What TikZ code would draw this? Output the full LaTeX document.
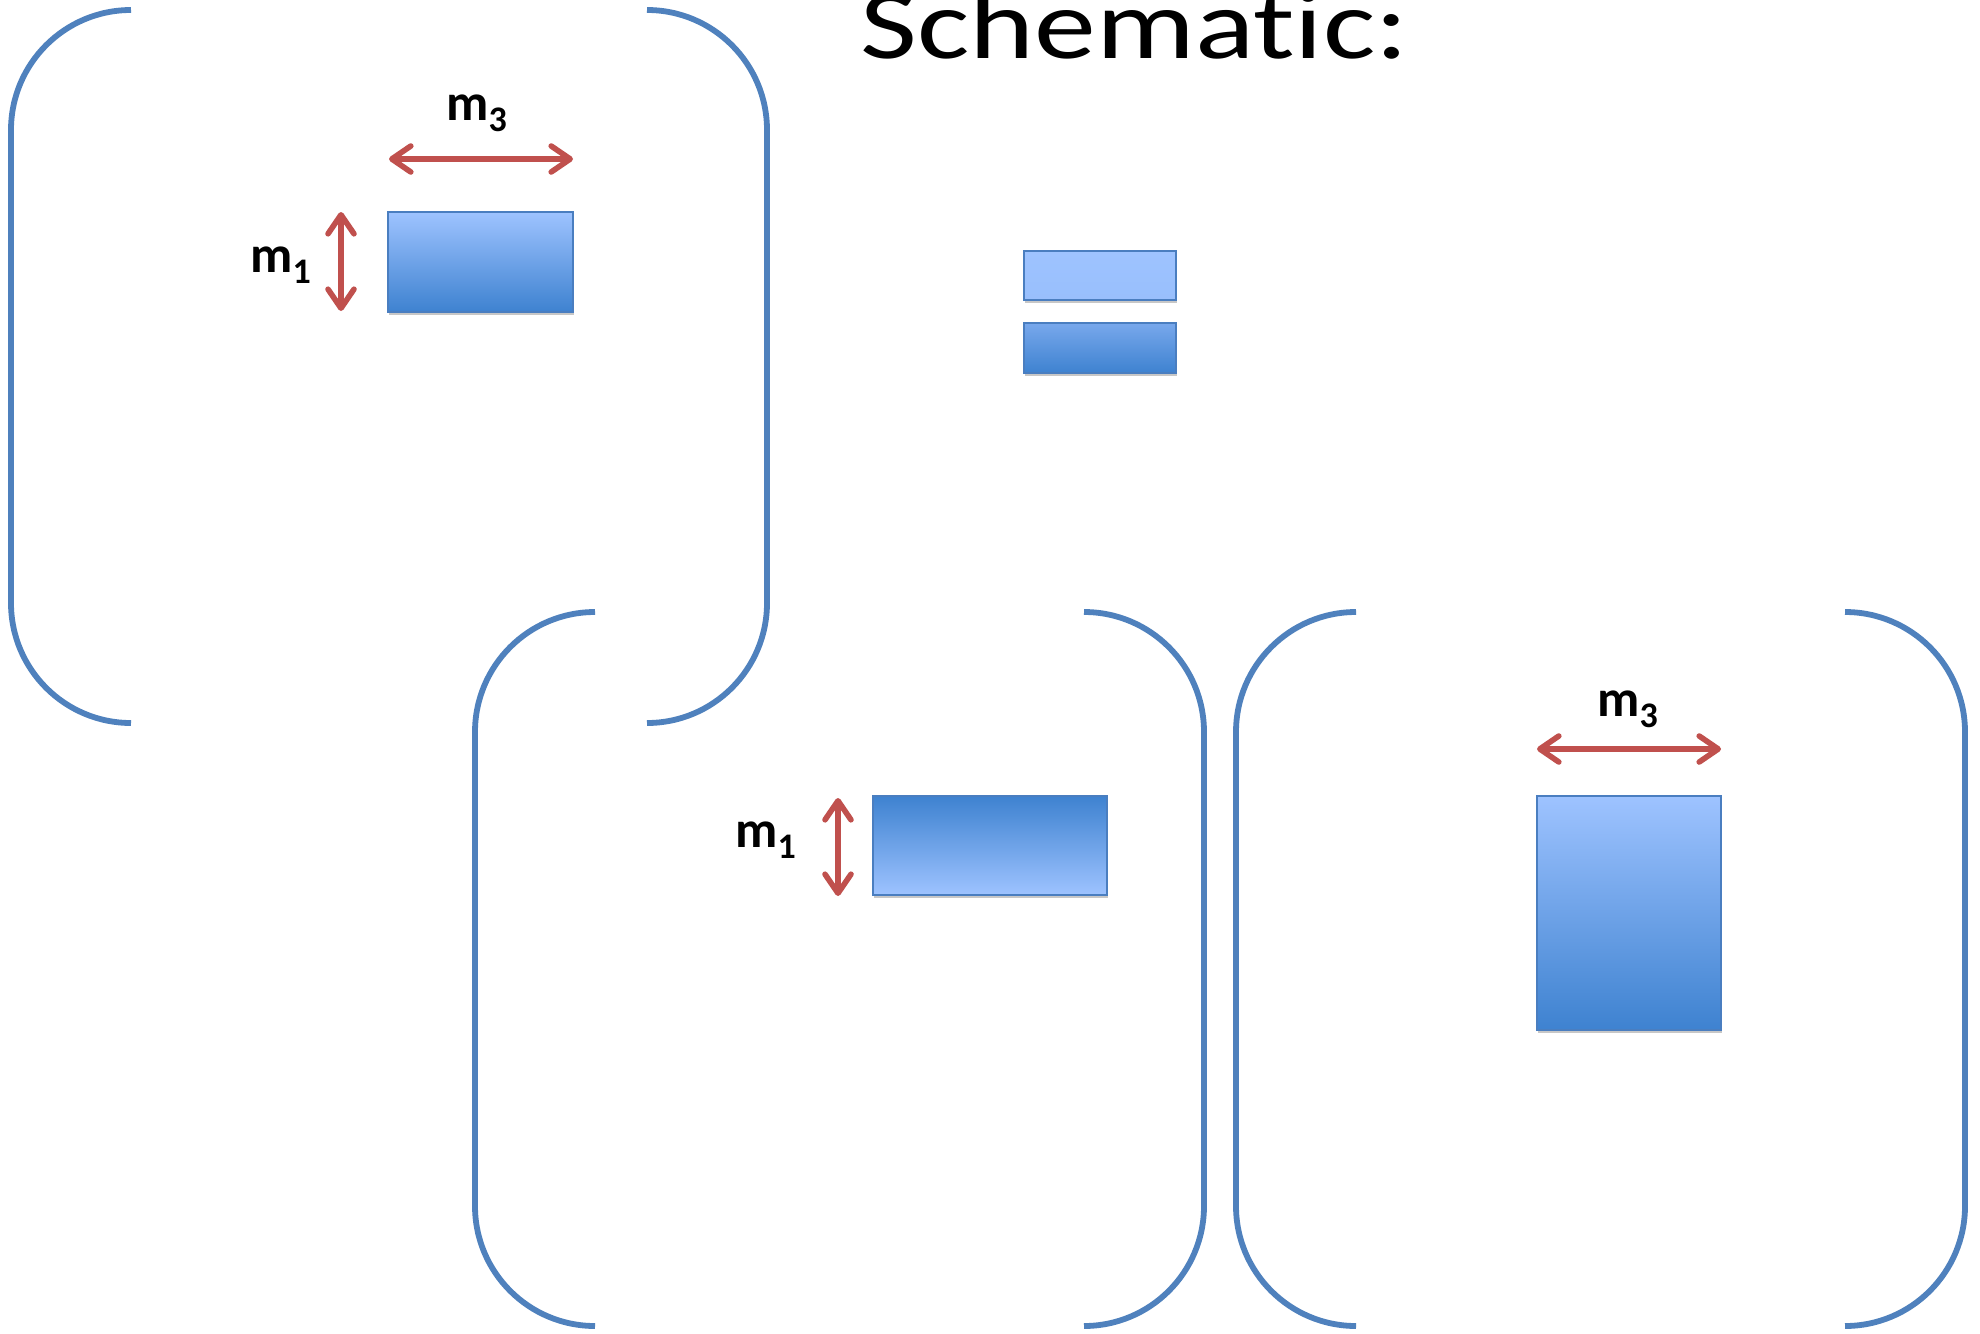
\documentclass[tikz,border=0pt]{standalone}
\usepackage{fontspec}
\setmainfont{Carlito}[Ligatures=CommonOff]
\usetikzlibrary{arrows.meta,shadows}
\definecolor{brk}{RGB}{79,129,189}
\definecolor{arr}{RGB}{192,80,77}
\definecolor{boxline}{RGB}{74,126,192}
\definecolor{boxlight}{RGB}{158,195,255}
\definecolor{boxmid}{RGB}{120,168,236}
\definecolor{boxdark}{RGB}{62,130,208}
\tikzset{
  bracket/.style={draw=brk, line width=2.9pt, rounded corners=60pt},
  dimarrow/.style={draw=arr, line width=2.8pt,
    {Straight Barb[length=9.5pt,width=13pt,round]}-{Straight Barb[length=9.5pt,width=13pt,round]}},
  blockbox/.style={draw=boxline, line width=0.9pt, inner sep=0pt, rectangle,
    drop shadow={shadow xshift=0.4pt, shadow yshift=-1.6pt, opacity=0.22, fill=black}},
  lightdown/.style={blockbox, top color=boxlight, bottom color=boxdark},
  darkdown/.style={blockbox, top color=boxdark, bottom color=boxlight},
  lbl/.style={anchor=base west, inner sep=0pt, font=\fontsize{26}{26}\selectfont\bfseries},
}
\newcommand{\msub}[1]{m\raisebox{-5.5pt}{\fontsize{18}{18}\selectfont\bfseries #1}}
\begin{document}
\begin{tikzpicture}[x=0.5pt,y=-0.5pt]
\useasboundingbox (0,0) rectangle (1980,1333);
\fill[white] (0,0) rectangle (1980,1333);

% title
\node[anchor=base west, inner sep=0pt, xscale=1.25, font=\fontsize{49.5}{49.5}\selectfont] (title) at (860,58) {Schematic:};

% bracket 1
\draw[bracket] (131,10) -- (11,10) -- (11,723) -- (131,723);
\draw[bracket] (647,10) -- (767,10) -- (767,723) -- (647,723);
% bracket 2
\draw[bracket] (595,612) -- (475,612) -- (475,1326) -- (595,1326);
\draw[bracket] (1084,612) -- (1204,612) -- (1204,1326) -- (1084,1326);
% bracket 3
\draw[bracket] (1356,612) -- (1236,612) -- (1236,1326) -- (1356,1326);
\draw[bracket] (1845,612) -- (1965,612) -- (1965,1326) -- (1845,1326);

% blocks
\node[lightdown, minimum width=92.5pt, minimum height=50pt] (r1) at (480.5,262) {};
\node[darkdown, minimum width=117pt, minimum height=49.5pt] (r2) at (990,845.5) {};
\node[lightdown, minimum width=92pt, minimum height=117pt] (r3) at (1629,913) {};
\node[blockbox, top color=boxlight, bottom color=boxlight!85!boxmid, minimum width=76pt, minimum height=24.5pt] (ra) at (1100,275.5) {};
\node[blockbox, top color=boxmid, bottom color=boxdark, minimum width=76pt, minimum height=25pt] (rb) at (1100,348) {};

% dimension arrows
\coordinate (a1l) at (389,159);
\coordinate (a1r) at (573,159);
\draw[dimarrow] (a1l) -- (a1r);
\coordinate (b1t) at (341,212);
\coordinate (b1b) at (341,311);
\draw[dimarrow] (b1t) -- (b1b);
\coordinate (b2t) at (838,798);
\coordinate (b2b) at (838,896);
\draw[dimarrow] (b2t) -- (b2b);
\coordinate (a3l) at (1537,749);
\coordinate (a3r) at (1721,749);
\draw[dimarrow] (a3l) -- (a3r);

% labels
\node[lbl] (l1) at (446,120) {\msub{3}};
\node[lbl] (l2) at (250,272) {\msub{1}};
\node[lbl] (l3) at (735,847) {\msub{1}};
\node[lbl] (l4) at (1597,716) {\msub{3}};
\end{tikzpicture}
\end{document}
